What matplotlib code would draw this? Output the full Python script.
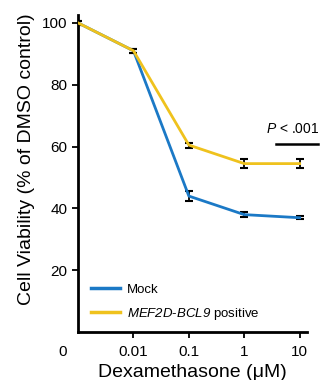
import matplotlib
matplotlib.use("Agg")
import matplotlib.pyplot as plt
import matplotlib.transforms as mtransforms
from matplotlib.lines import Line2D

plt.rcParams['font.family'] = ['Liberation Sans', 'DejaVu Sans']
plt.rcParams['mathtext.fontset'] = 'custom'
plt.rcParams['mathtext.rm'] = 'Liberation Sans'
plt.rcParams['mathtext.it'] = 'Liberation Sans:italic'
# \mathsf is used for italic gene names so digits are slanted too
plt.rcParams['mathtext.sf'] = 'Liberation Sans:italic'

# dose 0 is drawn at 0.001 on the log axis
doses = [0.001, 0.01, 0.1, 1, 10]
tick_doses = [0.01, 0.1, 1, 10]
tick_labels = ["0.01", "0.1", "1", "10"]

mock = [100, 91, 44, 38, 37]
mock_err = [0.6, 0.6, 1.5, 0.8, 0.5]
mef2d = [100, 91, 60.5, 54.5, 54.5]
mef2d_err = [0.6, 0.6, 0.8, 1.5, 1.5]

blue = "#1b79c6"
yellow = "#efc21d"

fig = plt.figure(figsize=(3.2, 3.8), dpi=100)
ax = fig.add_axes([0.244, 0.126, 0.715, 0.834])

ax.errorbar(doses, mock, yerr=mock_err, color=blue, lw=2, ecolor="black",
            elinewidth=1.3, capsize=3, capthick=1.5, zorder=3)
ax.errorbar(doses, mef2d, yerr=mef2d_err, color=yellow, lw=2, ecolor="black",
            elinewidth=1.3, capsize=3, capthick=1.5, zorder=4)

ax.set_xscale("log")
ax.set_xlim(0.001, 13.5)
ax.set_ylim(0, 102.5)
ax.set_xticks(tick_doses)
ax.set_xticklabels(tick_labels)
ax.minorticks_off()
ax.set_yticks([20, 40, 60, 80, 100])
ax.tick_params(labelsize=11, width=1.3, length=4)
ax.tick_params(axis="x", pad=5)

for s in ["top", "right"]:
    ax.spines[s].set_visible(False)
for s in ["left", "bottom"]:
    ax.spines[s].set_linewidth(2)

# "0" dose label sits left of the y axis
trans = mtransforms.blended_transform_factory(ax.transData, ax.transAxes)
ax.text(0.00052, -0.04, "0", transform=trans, ha="center", va="top",
        fontsize=11, clip_on=False)

ax.set_ylabel("Cell Viability (% of DMSO control)", fontsize=14)
ax.yaxis.set_label_coords(-0.19, 0.546)
ax.set_xlabel("Dexamethasone (μM)", fontsize=14, labelpad=4)

# significance bar
ax.plot([3.7, 21], [61, 61], color="black", lw=1.8, clip_on=False)
ax.text(7.5, 63.5, "$\\it{P}$ < .001", ha="center", va="bottom", fontsize=10)

handles = [Line2D([], [], color=blue, lw=2.5),
           Line2D([], [], color=yellow, lw=2.5)]
labels = ["Mock", "$\\mathsf{MEF2D}$-$\\mathsf{BCL9}$ positive"]
ax.legend(handles, labels, loc="lower left", bbox_to_anchor=(0.005, -0.005),
          frameon=False, fontsize=9.5, handlelength=2.2, handletextpad=0.5,
          labelspacing=0.75)

fig.savefig("out.png", dpi=100)
